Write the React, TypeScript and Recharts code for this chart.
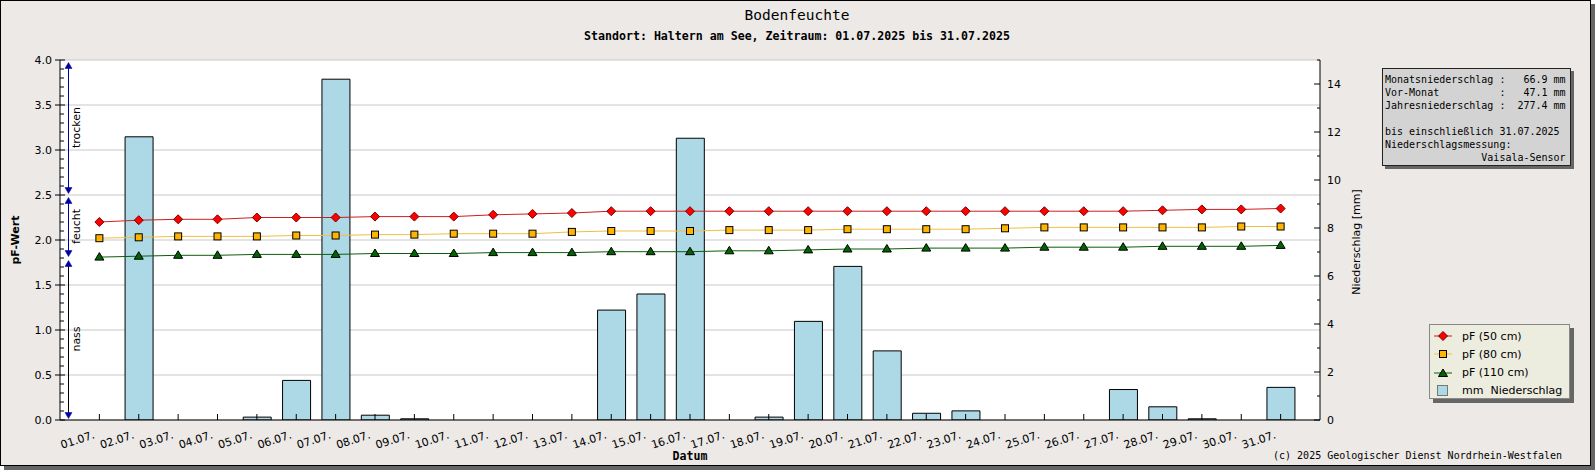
import React from 'react';
import { ComposedChart, Bar, Line, XAxis, YAxis, CartesianGrid } from 'recharts';

// ---------- data ----------
const days = [
  '01.07.', '02.07.', '03.07.', '04.07.', '05.07.', '06.07.', '07.07.', '08.07.', '09.07.', '10.07.',
  '11.07.', '12.07.', '13.07.', '14.07.', '15.07.', '16.07.', '17.07.', '18.07.', '19.07.', '20.07.',
  '21.07.', '22.07.', '23.07.', '24.07.', '25.07.', '26.07.', '27.07.', '28.07.', '29.07.', '30.07.', '31.07.',
];
const pf50 = [
  2.20, 2.22, 2.23, 2.23, 2.25, 2.25, 2.25, 2.26, 2.26, 2.26, 2.28, 2.29, 2.30,
  2.32, 2.32, 2.32, 2.32, 2.32, 2.32, 2.32, 2.32, 2.32, 2.32, 2.32, 2.32, 2.32, 2.32,
  2.33, 2.34, 2.34, 2.35,
];
const pf80 = [
  2.02, 2.03, 2.04, 2.04, 2.04, 2.05, 2.05, 2.06, 2.06, 2.07, 2.07, 2.07, 2.09,
  2.10, 2.10, 2.10, 2.11, 2.11, 2.11, 2.12,
  2.12, 2.12, 2.12, 2.13, 2.14, 2.14,
  2.14, 2.14, 2.14, 2.15, 2.15,
];
const pf110 = [
  1.81, 1.82, 1.83, 1.83, 1.84, 1.84, 1.84, 1.85, 1.85, 1.85, 1.86, 1.86, 1.86,
  1.87, 1.87, 1.87, 1.88, 1.88, 1.89, 1.90,
  1.90, 1.91, 1.91, 1.91, 1.92, 1.92,
  1.92, 1.93, 1.93, 1.93, 1.94,
];
const niederschlag = [
  0, 11.8, 0, 0, 0.12, 1.65, 14.2, 0.2, 0.05, 0,
  0, 0, 0, 4.58, 5.25, 11.74, 0, 0.12, 4.11, 6.4,
  2.88, 0.28, 0.38, 0, 0, 0, 1.27, 0.55, 0.05, 0, 1.36,
];

const pfMajorTicks = [0, 0.5, 1, 1.5, 2, 2.5, 3, 3.5, 4];
const pfAllTicks = Array.from({ length: 41 }, (_, i) => i / 10);
const mmAllTicks = [0, 1, 2, 3, 4, 5, 6, 7, 8, 9, 10, 11, 12, 13, 14, 15];
const mmLabelTicks = [0, 2, 4, 6, 8, 10, 12, 14];

const zones = [
  { label: 'trocken', from: 2.5, to: 4.0, color: '#0000a0' },
  { label: 'feucht', from: 1.8, to: 2.5, color: '#0000a0' },
  { label: 'nass', from: 0.0, to: 1.8, color: '#000000' },
];

const infoLines = [
  'Monatsniederschlag :   66.9 mm',
  'Vor-Monat          :   47.1 mm',
  'Jahresniederschlag :  277.4 mm',
  '',
  'bis einschließlich 31.07.2025',
  'Niederschlagsmessung:',
  '                Vaisala-Sensor',
];

const data = days.map((d, i) => ({
  day: d,
  pf50: pf50[i],
  pf80: pf80[i],
  pf110: pf110[i],
  mm: niederschlag[i],
}));

// ---------- layout ----------
const W = 1595;
const H = 470;
const PLOT_L = 60;
const PLOT_R = 1320;
const PLOT_T = 60;
const PLOT_B = 420;
const PF_MAX = 4;
const yPf = (v: number) => PLOT_T + (PLOT_B - PLOT_T) * (1 - v / PF_MAX);

const SANS = 'DejaVu Sans, sans-serif';
const MONO = 'DejaVu Sans Mono, monospace';

const COL_RED = '#ff0000';
const COL_RED_LINE = '#cc1f1f';
const COL_ORANGE = '#ffb400';
const COL_ORANGE_LINE = '#f0c040';
const COL_GREEN = '#006400';
const COL_GREEN_LINE = '#0b5e0b';
const COL_BAR = '#add8e6';

// ---------- markers ----------
const Diamond = ({ cx, cy }: any) =>
  cx == null || cy == null ? null : (
    <polygon
      points={`${cx},${cy - 4.5} ${cx + 4.5},${cy} ${cx},${cy + 4.5} ${cx - 4.5},${cy}`}
      fill={COL_RED}
      stroke="#7a0000"
      strokeWidth={1}
    />
  );
const Square = ({ cx, cy }: any) =>
  cx == null || cy == null ? null : (
    <rect x={cx - 3.5} y={cy - 3.5} width={7} height={7} fill={COL_ORANGE} stroke="#000" strokeWidth={1} />
  );
const Triangle = ({ cx, cy }: any) =>
  cx == null || cy == null ? null : (
    <polygon
      points={`${cx},${cy - 4.5} ${cx + 4.5},${cy + 3} ${cx - 4.5},${cy + 3}`}
      fill={COL_GREEN}
      stroke="#000"
      strokeWidth={1}
    />
  );

// ---------- ticks ----------
const XTick = (props: any) => {
  const { x, y, payload } = props;
  const tx = x - 4;
  const ty = y + 18;
  return (
    <g>
      <line x1={x} x2={x} y1={y} y2={y - 6} stroke="#000" strokeWidth={1} />
      <text
        x={tx}
        y={ty}
        textAnchor="end"
        fontSize={11}
        fontFamily={SANS}
        fill="#000"
        transform={`rotate(-18 ${tx} ${ty})`}
      >
        {payload.value}
      </text>
    </g>
  );
};

const LeftTick = (props: any) => {
  const { x, y, payload } = props;
  const v = payload.value as number;
  const major = pfMajorTicks.some((m) => Math.abs(m - v) < 1e-6);
  return (
    <g>
      <line x1={major ? x - 5 : x} x2={major ? x + 5 : x + 4} y1={y} y2={y} stroke="#000" strokeWidth={1} />
      {major && (
        <text x={x - 8} y={y + 4} textAnchor="end" fontSize={11} fontFamily={SANS} fill="#000">
          {v.toFixed(1)}
        </text>
      )}
    </g>
  );
};

const RightTick = (props: any) => {
  const { x, y, payload } = props;
  const v = payload.value as number;
  const major = mmLabelTicks.includes(v);
  return (
    <g>
      <line x1={major ? x - 6 : x - 3} x2={x} y1={y} y2={y} stroke="#000" strokeWidth={1} />
      {major && (
        <text x={x + 7} y={y + 4} textAnchor="start" fontSize={11} fontFamily={SANS} fill="#000">
          {v}
        </text>
      )}
    </g>
  );
};

// ---------- legend ----------
const legendItems = [
  { label: 'pF (50 cm)', kind: 'diamond' },
  { label: 'pF (80 cm)', kind: 'square' },
  { label: 'pF (110 cm)', kind: 'triangle' },
  { label: 'mm  Niederschlag', kind: 'bar' },
];

const LegendSymbol = ({ kind }: { kind: string }) => {
  const cx = 10;
  const cy = 6;
  if (kind === 'bar') {
    return (
      <svg width={20} height={12}>
        <rect x={4.5} y={0.5} width={10} height={10} fill={COL_BAR} stroke="#777" />
      </svg>
    );
  }
  const lineCol = kind === 'diamond' ? COL_RED_LINE : kind === 'square' ? COL_ORANGE_LINE : COL_GREEN_LINE;
  return (
    <svg width={20} height={12}>
      <line x1={1} x2={19} y1={cy} y2={cy} stroke={lineCol} strokeWidth={1} />
      {kind === 'diamond' && <Diamond cx={cx} cy={cy} />}
      {kind === 'square' && <Square cx={cx} cy={cy} />}
      {kind === 'triangle' && <Triangle cx={cx} cy={cy + 0.5} />}
    </svg>
  );
};

export default function App() {
  return (
    <div style={{ position: 'absolute', left: 0, top: 0, width: W, height: H, fontFamily: SANS }}>
      {/* frame */}
      <div
        style={{
          position: 'absolute',
          left: 0,
          top: 0,
          width: 1591,
          height: 466,
          boxSizing: 'border-box',
          border: '1px solid #000',
          background: '#ece9e7',
          boxShadow: '4px 4px 0 #666',
        }}
      />
      {/* chart */}
      <div style={{ position: 'absolute', left: 0, top: 0 }}>
        <ComposedChart
          width={W}
          height={H}
          data={data}
          margin={{ top: PLOT_T, right: W - PLOT_R - 40, bottom: H - PLOT_B - 30, left: 0 }}
        >
          <CartesianGrid
            yAxisId="left"
            vertical={false}
            horizontalValues={pfMajorTicks}
            stroke="#c8c8c8"
            fill="#ffffff"
            fillOpacity={1}
          />
          <XAxis
            dataKey="day"
            height={30}
            interval={0}
            padding={{ left: 19.6875, right: 19.6875 }}
            tickSize={0}
            tickMargin={0}
            tickLine={false}
            axisLine={{ stroke: '#000' }}
            tick={XTick}
          />
          <YAxis
            yAxisId="left"
            orientation="left"
            width={PLOT_L}
            domain={[0, PF_MAX]}
            ticks={pfAllTicks}
            interval={0}
            tickSize={0}
            tickMargin={0}
            tickLine={false}
            axisLine={{ stroke: '#000' }}
            tick={LeftTick}
            allowDataOverflow
          />
          <YAxis
            yAxisId="right"
            orientation="right"
            width={40}
            domain={[0, 15]}
            ticks={mmAllTicks}
            interval={0}
            tickSize={0}
            tickMargin={0}
            tickLine={false}
            axisLine={{ stroke: '#000' }}
            tick={RightTick}
            allowDataOverflow
          />
          <Bar
            yAxisId="right"
            dataKey="mm"
            barSize={28}
            fill={COL_BAR}
            stroke="#000"
            strokeWidth={1}
            isAnimationActive={false}
          />
          <Line
            yAxisId="left"
            type="linear"
            dataKey="pf50"
            stroke={COL_RED_LINE}
            strokeWidth={1}
            dot={Diamond}
            activeDot={false}
            isAnimationActive={false}
          />
          <Line
            yAxisId="left"
            type="linear"
            dataKey="pf80"
            stroke={COL_ORANGE_LINE}
            strokeWidth={1}
            dot={Square}
            activeDot={false}
            isAnimationActive={false}
          />
          <Line
            yAxisId="left"
            type="linear"
            dataKey="pf110"
            stroke={COL_GREEN_LINE}
            strokeWidth={1}
            dot={Triangle}
            activeDot={false}
            isAnimationActive={false}
          />
        </ComposedChart>
      </div>

      {/* overlay texts and annotations */}
      <svg
        width={W}
        height={H}
        style={{ position: 'absolute', left: 0, top: 0, pointerEvents: 'none' }}
      >
        <text x={797} y={20} textAnchor="middle" fontFamily={MONO} fontSize={14.5} fill="#000">
          Bodenfeuchte
        </text>
        <text x={797} y={40} textAnchor="middle" fontFamily={MONO} fontWeight="bold" fontSize={11.6} fill="#000">
          Standort: Haltern am See, Zeitraum: 01.07.2025 bis 31.07.2025
        </text>
        <text
          x={19}
          y={240}
          textAnchor="middle"
          fontFamily={SANS}
          fontWeight="bold"
          fontSize={11}
          fill="#000"
          transform="rotate(-90 19 240)"
        >
          pF-Wert
        </text>
        <text
          x={1360}
          y={242}
          textAnchor="middle"
          fontFamily={SANS}
          fontSize={11}
          fill="#000"
          transform="rotate(-90 1360 242)"
        >
          Niederschlag [mm]
        </text>
        <text x={690} y={460} textAnchor="middle" fontFamily={MONO} fontWeight="bold" fontSize={11.6} fill="#000">
          Datum
        </text>
        <text x={1562} y={459} textAnchor="end" fontFamily={MONO} fontSize={10} fill="#000">
          (c) 2025 Geologischer Dienst Nordrhein-Westfalen
        </text>

        {zones.map((z) => {
          const ax = 68.5;
          const upTip = yPf(z.to) + 2.5;
          const downTip = yPf(z.from) - 1.5;
          const mid = (yPf(z.to) + yPf(z.from)) / 2;
          return (
            <g key={z.label}>
              <line x1={ax} x2={ax} y1={upTip + 3} y2={downTip - 3} stroke={z.color} strokeWidth={1} />
              <polygon
                points={`${ax},${upTip} ${ax + 3.5},${upTip + 6} ${ax - 3.5},${upTip + 6}`}
                fill="#0000a0"
                stroke="#0000a0"
                strokeWidth={0.5}
              />
              <polygon
                points={`${ax},${downTip} ${ax + 3.5},${downTip - 6} ${ax - 3.5},${downTip - 6}`}
                fill="#0000a0"
                stroke="#0000a0"
                strokeWidth={0.5}
              />
              <text
                x={80}
                y={mid}
                textAnchor="middle"
                fontFamily={SANS}
                fontSize={11}
                fill="#000"
                transform={`rotate(-90 80 ${mid})`}
              >
                {z.label}
              </text>
            </g>
          );
        })}
      </svg>

      {/* info box */}
      <div
        style={{
          position: 'absolute',
          left: 1382,
          top: 68,
          width: 189,
          height: 98,
          boxSizing: 'border-box',
          background: '#d3d3d3',
          border: '1px solid #222',
          boxShadow: '3px 3px 0 #666',
          padding: '4px 0 0 2px',
          fontFamily: MONO,
          fontSize: 10,
          lineHeight: '13px',
          whiteSpace: 'pre',
          color: '#000',
        }}
      >
        {infoLines.map((l, i) => (
          <div key={i} style={{ height: 13 }}>
            {l}
          </div>
        ))}
      </div>

      {/* legend */}
      <div
        style={{
          position: 'absolute',
          left: 1429,
          top: 324,
          width: 141,
          height: 75,
          boxSizing: 'border-box',
          background: '#ececdf',
          border: '1px solid #888',
          boxShadow: '4px 4px 0 #666',
        }}
      >
        {legendItems.map((it, i) => (
          <div
            key={it.label}
            style={{
              position: 'absolute',
              left: 3,
              top: 3 + i * 18.3,
              height: 16,
              display: 'flex',
              alignItems: 'center',
              whiteSpace: 'pre',
              fontFamily: SANS,
              fontSize: 11,
              color: '#000',
            }}
          >
            <LegendSymbol kind={it.kind} />
            <span style={{ marginLeft: 9 }}>{it.label}</span>
          </div>
        ))}
      </div>
    </div>
  );
}
